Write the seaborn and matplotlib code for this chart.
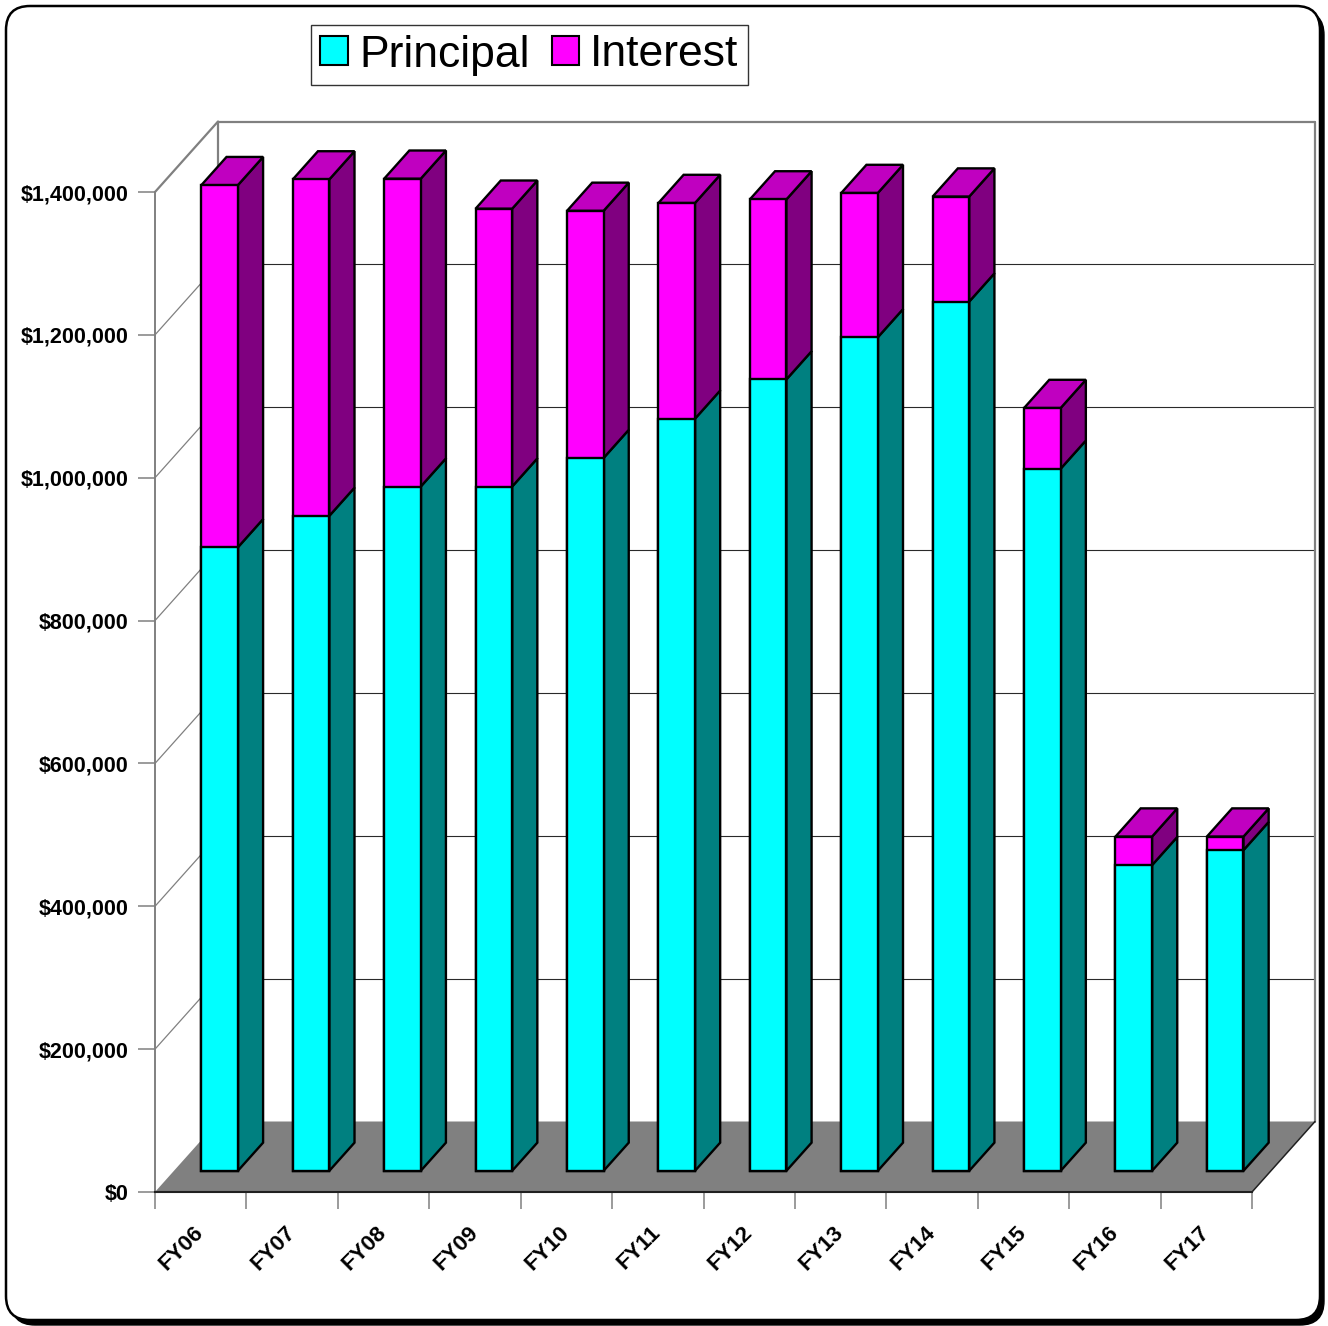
import numpy as np
import pandas as pd
import matplotlib
matplotlib.use("Agg")
import matplotlib.pyplot as plt
import matplotlib.transforms as mtransforms
from matplotlib.patches import Polygon, Patch, FancyBboxPatch
from matplotlib.lines import Line2D
import seaborn as sns

# ---- data -------------------------------------------------------------
fiscal_years = ["FY06", "FY07", "FY08", "FY09", "FY10", "FY11",
                "FY12", "FY13", "FY14", "FY15", "FY16", "FY17"]
principal = [873000, 917000, 958000, 958000, 998000, 1053000,
             1108000, 1167000, 1217000, 983000, 428000, 449000]
interest = [507000, 471000, 431000, 389000, 346000, 302000,
            252000, 202000, 147000, 85000, 40000, 19000]
y_ticks = [0, 200000, 400000, 600000, 800000, 1000000, 1200000, 1400000]

df = pd.DataFrame({"fy": fiscal_years, "principal": principal, "interest": interest})
df["total"] = df["principal"] + df["interest"]

# ---- style ------------------------------------------------------------
sns.set_style("white")
plt.rcParams["font.family"] = ["Liberation Sans", "DejaVu Sans"]
plt.rcParams["text.color"] = "black"
plt.rcParams["xtick.labelcolor"] = "black"
plt.rcParams["ytick.labelcolor"] = "black"

CYAN, CYAN_SIDE = "#00FFFF", "#008080"
MAG, MAG_SIDE, MAG_TOP = "#FF00FF", "#800080", "#C000C0"
WALL = "#808080"
FLOOR = "#808080"

W, H = 1328, 1326
fig = plt.figure(figsize=(W / 100, H / 100), dpi=100)

# rounded outer frame with a small drop shadow (pixel coordinates)
ident = mtransforms.IdentityTransform()
shadow = FancyBboxPatch((11, 1), 1313, 1314, boxstyle="round,pad=0,rounding_size=24",
                        facecolor="black", edgecolor="black", transform=ident, zorder=-3)
frame = FancyBboxPatch((6, 6), 1314, 1314, boxstyle="round,pad=0,rounding_size=24",
                       facecolor="white", edgecolor="black", linewidth=1.8,
                       transform=ident, zorder=-2)
fig.add_artist(shadow)
fig.add_artist(frame)

# front plane of the plot box (pixel edges measured from the top-left)
L, R, B, T = 155, 1252, 1192, 192
ax = fig.add_axes([L / W, 1 - B / H, (R - L) / W, (B - T) / H])
ax.patch.set_alpha(0)

NCAT = len(fiscal_years)
YMAX = 1400000
px_x = NCAT / (R - L)          # data units per pixel, horizontally
px_y = YMAX / (B - T)          # data units per pixel, vertically
DEPTH_X, DEPTH_Y = 63, 70.5    # full depth of the box in pixels
D_FRONT, D_BACK = 0.30, 0.70   # depth range occupied by the bars
HALF = 0.2                     # half bar width (category units)


def proj(x, y, d):
    return (x + d * DEPTH_X * px_x, y + d * DEPTH_Y * px_y)


# ---- bars (front faces) -------------------------------------------------
sns.barplot(data=df, x="fy", y="total", color=MAG, saturation=1, width=2 * HALF,
            edgecolor="black", linewidth=1.7, errorbar=None, ax=ax, zorder=5)
sns.barplot(data=df, x="fy", y="principal", color=CYAN, saturation=1, width=2 * HALF,
            edgecolor="black", linewidth=1.7, errorbar=None, ax=ax, zorder=5)

ox, oy = proj(0, 0, D_FRONT)
shift = mtransforms.Affine2D().translate(ox, oy) + ax.transData
for cont in ax.containers:
    for p in cont:
        p.set_transform(shift)
        p.set_clip_on(False)
        p.set_joinstyle("miter")

ax.set_xlim(-0.5, NCAT - 0.5)
ax.set_ylim(0, YMAX)
ax.set_xlabel("")
ax.set_ylabel("")


def face(pts, fc, z, lw=1.7, ec="black"):
    ax.add_patch(Polygon(pts, closed=True, facecolor=fc, edgecolor=ec,
                         linewidth=lw, joinstyle="miter", clip_on=False, zorder=z))


# ---- walls and floor ------------------------------------------------------
x0, x1 = -0.5, NCAT - 0.5
face([proj(x0, 0, 1), proj(x1, 0, 1), proj(x1, YMAX, 1), proj(x0, YMAX, 1)],
     "white", 0.5, lw=0)
face([proj(x0, 0, 0), proj(x1, 0, 0), proj(x1, 0, 1), proj(x0, 0, 1)], FLOOR, 1.5, lw=0)

for v in y_ticks[1:-1]:
    ax.add_line(Line2D(*zip(proj(x0, v, 0), proj(x0, v, 1)), color=WALL, lw=0.9,
                       clip_on=False, zorder=1))
    ax.add_line(Line2D(*zip(proj(x0, v, 1), proj(x1, v, 1)), color="#2a2a2a", lw=0.8,
                       clip_on=False, zorder=1))

# wall outlines
for a, b in [((x0, YMAX, 0), (x0, YMAX, 1)), ((x0, YMAX, 1), (x1, YMAX, 1)),
             ((x0, 0, 1), (x0, YMAX, 1)), ((x1, 0, 1), (x1, YMAX, 1))]:
    ax.add_line(Line2D(*zip(proj(*a), proj(*b)), color=WALL, lw=1.6,
                       clip_on=False, zorder=1.2))
ax.add_line(Line2D(*zip(proj(x1, 0, 0), proj(x1, 0, 1)), color="#202020", lw=1.1,
                   clip_on=False, zorder=1.6))

# ---- bar sides and tops ---------------------------------------------------
for i, (pv, tv) in enumerate(zip(df["principal"], df["total"])):
    xr = i + HALF
    xl = i - HALF
    face([proj(xr, 0, D_FRONT), proj(xr, pv, D_FRONT), proj(xr, pv, D_BACK),
          proj(xr, 0, D_BACK)], CYAN_SIDE, 4)
    face([proj(xr, pv, D_FRONT), proj(xr, tv, D_FRONT), proj(xr, tv, D_BACK),
          proj(xr, pv, D_BACK)], MAG_SIDE, 4)
    face([proj(xl, tv, D_FRONT), proj(xr, tv, D_FRONT), proj(xr, tv, D_BACK),
          proj(xl, tv, D_BACK)], MAG_TOP, 4)

# ---- axes, ticks, labels --------------------------------------------------
for s in ["top", "right"]:
    ax.spines[s].set_visible(False)
ax.spines["left"].set_color(WALL)
ax.spines["left"].set_linewidth(1.4)
ax.spines["bottom"].set_color("#202020")
ax.spines["bottom"].set_linewidth(1.5)
ax.spines["left"].set_zorder(1.3)
ax.spines["bottom"].set_zorder(1.7)

ax.set_yticks(y_ticks)
ax.set_yticklabels([f"${v:,.0f}" for v in y_ticks], fontsize=15.5, fontweight="bold",
                   color="black")
ax.tick_params(axis="y", which="major", left=True, length=12, width=1.1,
               color=WALL, pad=7)

ax.set_xticks(range(NCAT))
ax.set_xticklabels(fiscal_years, fontsize=16, fontweight="bold", color="black")
ax.set_xticks(np.arange(-0.5, NCAT, 1.0), minor=True)
ax.tick_params(axis="x", which="major", bottom=True, length=0, pad=27)
ax.tick_params(axis="x", which="minor", bottom=True, length=12, width=1.1, color=WALL)
for lab in ax.get_xticklabels():
    lab.set_rotation(45)
    lab.set_rotation_mode("anchor")
    lab.set_ha("right")
    lab.set_va("center")

# ---- legend ---------------------------------------------------------------
handles = [Patch(facecolor=CYAN, edgecolor="black", linewidth=1.5, label="Principal"),
           Patch(facecolor=MAG, edgecolor="black", linewidth=1.5, label="Interest")]
leg = fig.legend(handles=handles, loc="center", bbox_to_anchor=(529.5 / W, 1 - 55 / H),
                 ncol=2, fontsize=32, frameon=True, fancybox=False, edgecolor="black",
                 handlelength=0.62, handleheight=0.62, handletextpad=0.25,
                 columnspacing=0.5, borderpad=0.22, borderaxespad=0)
leg.get_frame().set_linewidth(1.0)
for t in leg.get_texts():
    t.set_color("black")

fig.savefig("out.png", dpi=100, facecolor="white")
